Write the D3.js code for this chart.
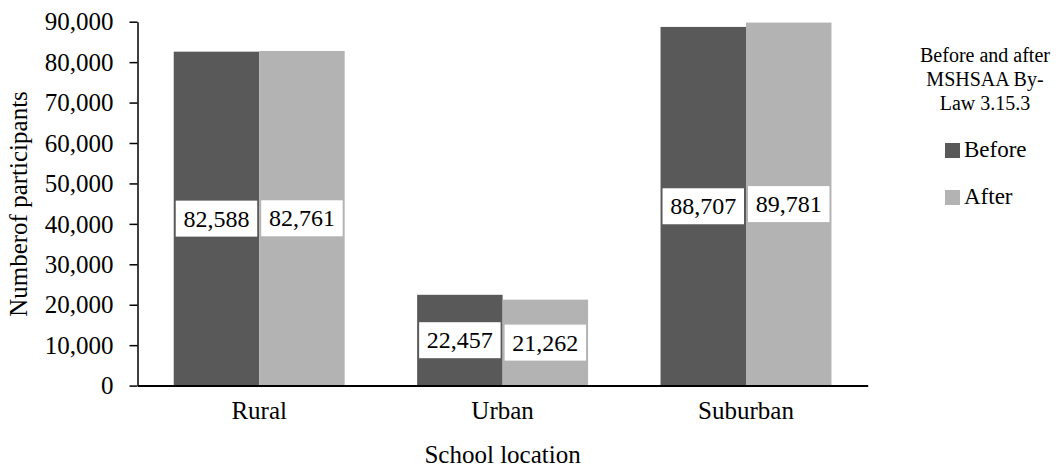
<!DOCTYPE html>
<html>
<head>
<meta charset="utf-8">
<script src="https://cdn.jsdelivr.net/npm/d3@7/dist/d3.min.js"></script>
<style>
  html, body { margin: 0; padding: 0; background: #fff; }
  svg { display: block; }
  svg text { font-family: "Liberation Serif", "Times New Roman", serif; }
</style>
</head>
<body>
<svg id="chart" width="1058" height="469"></svg>
<script>
// Participants by school location, before and after MSHSAA By-Law 3.15.3
const categories = ["Rural", "Urban", "Suburban"];
const seriesNames = ["Before", "After"];
const beforeValues = [82588, 22457, 88707];
const afterValues = [82761, 21262, 89781];
const yTicks = [0, 10000, 20000, 30000, 40000, 50000, 60000, 70000, 80000, 90000];
const legendTitle = ["Before and after", "MSHSAA By-", "Law 3.15.3"];
const xTitle = "School location";
const yTitle = "Numberof participants";

const colors = { Before: "#595959", After: "#b3b3b3" };
const serif = "'Liberation Serif', 'Times New Roman', serif";

const svg = d3.select("#chart");
const plot = { left: 137.5, right: 867.7, top: 21.7, bottom: 385.6 };

const rows = categories.map((c, i) => ({
  category: c,
  values: [
    { series: "Before", value: beforeValues[i] },
    { series: "After", value: afterValues[i] }
  ]
}));

const x = d3.scaleBand()
  .domain(categories)
  .range([plot.left, plot.right])
  .paddingInner(0.2977)
  .paddingOuter(0.2977 / 2);

const xs = d3.scaleBand()
  .domain(seriesNames)
  .range([0, x.bandwidth()])
  .padding(0);

const y = d3.scaleLinear()
  .domain([0, 90000])
  .range([plot.bottom, plot.top]);

const fmt = d3.format(",");

// Bars
const groups = svg.append("g").selectAll("g")
  .data(rows)
  .join("g")
  .attr("transform", d => `translate(${x(d.category)},0)`);

groups.selectAll("rect.bar")
  .data(d => d.values)
  .join("rect")
  .attr("class", "bar")
  .attr("x", d => xs(d.series))
  .attr("width", xs.bandwidth())
  .attr("y", d => y(d.value))
  .attr("height", d => y(0) - y(d.value))
  .attr("fill", d => colors[d.series]);

// Value labels in white boxes at the middle of each bar
const labelH = 36;
const inset = 2;
const labels = groups.selectAll("g.lbl")
  .data(d => d.values)
  .join("g")
  .attr("class", "lbl")
  .attr("transform", d => `translate(${xs(d.series) + xs.bandwidth() / 2},${y(d.value / 2)})`);

labels.append("rect")
  .attr("x", -(xs.bandwidth() / 2 - inset))
  .attr("width", xs.bandwidth() - 2 * inset)
  .attr("y", -labelH / 2)
  .attr("height", labelH)
  .attr("fill", "#fff");

labels.append("text")
  .attr("text-anchor", "middle")
  .attr("dy", "0.34em")
  .attr("font-size", 24)
  .attr("fill", "#000")
  .text(d => fmt(d.value));

// Y axis
const yAxis = svg.append("g")
  .attr("transform", `translate(${plot.left},0)`)
  .call(d3.axisLeft(y).tickValues(yTicks).tickFormat(fmt).tickSize(8).tickPadding(16).tickSizeOuter(0));
yAxis.attr("font-family", null).attr("font-size", null);
yAxis.select(".domain").attr("stroke", "#000").attr("stroke-width", 1.5);
yAxis.selectAll(".tick line").attr("stroke", "#000").attr("stroke-width", 1.5);
yAxis.selectAll(".tick text")
  .attr("font-size", 25)
  .attr("fill", "#000")
  .attr("dy", "0.33em");

// X axis
const xAxis = svg.append("g")
  .attr("transform", `translate(0,${plot.bottom})`)
  .call(d3.axisBottom(x).tickSize(0).tickPadding(28).tickSizeOuter(0));
xAxis.attr("font-family", null).attr("font-size", null);
xAxis.select(".domain").attr("stroke", "#000").attr("stroke-width", 2);
xAxis.selectAll(".tick text")
  .attr("font-size", 25)
  .attr("fill", "#000")
  .attr("dy", "0.2em");

// Axis titles
svg.append("text")
  .attr("x", (plot.left + plot.right) / 2)
  .attr("y", 463)
  .attr("text-anchor", "middle")
  .attr("font-size", 25)
  .text(xTitle);

svg.append("text")
  .attr("transform", "translate(27,204) rotate(-90)")
  .attr("text-anchor", "middle")
  .attr("font-size", 25)
  .text(yTitle);

// Legend
const legend = svg.append("g");
legend.selectAll("text.title")
  .data(legendTitle)
  .join("text")
  .attr("class", "title")
  .attr("x", 985)
  .attr("y", (d, i) => 62 + i * 24)
  .attr("text-anchor", "middle")
  .attr("font-size", 20)
  .text(d => d);

const items = legend.selectAll("g.item")
  .data(seriesNames)
  .join("g")
  .attr("class", "item")
  .attr("transform", (d, i) => `translate(945,${143 + i * 47})`);
items.append("rect")
  .attr("width", 15)
  .attr("height", 15)
  .attr("fill", d => colors[d]);
items.append("text")
  .attr("x", 19)
  .attr("y", 14)
  .attr("font-size", 23)
  .text(d => d);

svg.selectAll("text").style("font-family", serif);
</script>
</body>
</html>
